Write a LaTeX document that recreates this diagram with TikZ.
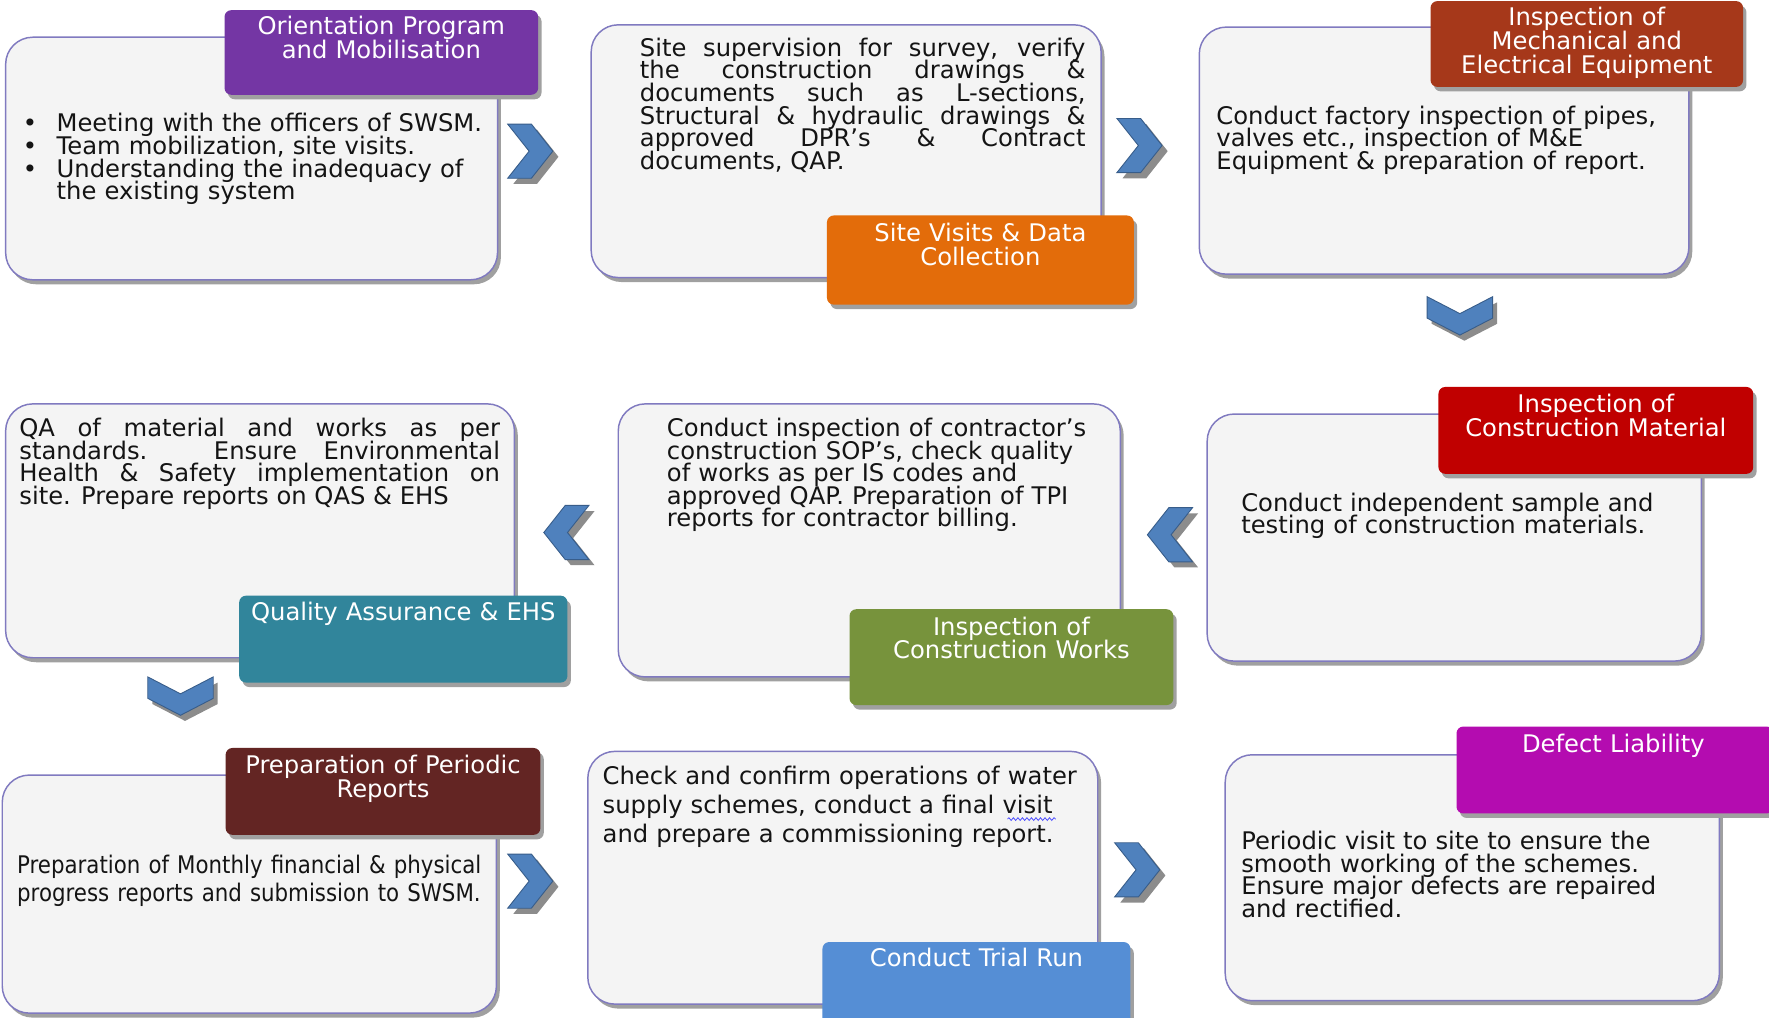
\documentclass[tikz,border=0pt]{standalone}
\usepackage{fontspec}
\setmainfont{DejaVu Sans}
\newfontfamily\narrowfont[FakeStretch=0.88]{DejaVu Sans}
\usetikzlibrary{shadows,decorations.pathmorphing}

\newcommand\bodyfont{\fontsize{21.5}{20}\selectfont\lineskiplimit=-20pt\relax}
\newcommand\headfont{\fontsize{21.5}{21}\selectfont\lineskiplimit=-20pt\relax}

\definecolor{panelfill}{RGB}{244,244,244}
\definecolor{panelline}{RGB}{128,122,192}
\definecolor{shadegray}{RGB}{160,160,160}
\definecolor{bodytext}{RGB}{20,20,20}
\definecolor{chevblue}{RGB}{79,129,189}
\definecolor{chevedge}{RGB}{56,93,138}
\definecolor{chevshade}{RGB}{140,140,140}
\definecolor{hdpurple}{RGB}{116,54,164}
\definecolor{hdorange}{RGB}{227,108,10}
\definecolor{hdrust}{RGB}{166,56,26}
\definecolor{hdred}{RGB}{192,0,0}
\definecolor{hdgreen}{RGB}{119,147,60}
\definecolor{hdteal}{RGB}{49,133,155}
\definecolor{hdmaroon}{RGB}{99,37,35}
\definecolor{hdblue}{RGB}{85,142,213}
\definecolor{hdmagenta}{RGB}{180,12,176}

\begin{document}
\begin{tikzpicture}[x=1pt, y=-1pt,
    panel/.style={draw=panelline, line width=1.3pt, fill=panelfill, rounded corners=24pt,
      drop shadow={shadow xshift=3pt, shadow yshift=-4pt, fill=shadegray, opacity=1}},
    head/.style={fill=#1, rounded corners=6pt,
      drop shadow={shadow xshift=3pt, shadow yshift=-4pt, fill=shadegray, opacity=1}},
    head text/.style={font=\headfont, text=white,
      inner sep=0pt, anchor=base, text width=290, align=center},
    body/.style={font=\bodyfont, text=bodytext,
      inner sep=0pt, anchor=base west, text width=#1, align=left},
    body just/.style={body=#1, align=justify},
    chevR/.pic={
      \fill[chevshade] (5,5) -- (26,5) -- (45,29) -- (26,53) -- (5,53) -- (24,29) -- cycle;
      \filldraw[fill=chevblue, draw=chevedge, line width=0.8pt]
        (0,0) -- (21,0) -- (40,24) -- (21,48) -- (0,48) -- (19,24) -- cycle;},
    chevL/.pic={
      \fill[chevshade] (45,5) -- (24,5) -- (5,29) -- (24,53) -- (45,53) -- (26,29) -- cycle;
      \filldraw[fill=chevblue, draw=chevedge, line width=0.8pt]
        (40,0) -- (19,0) -- (0,24) -- (19,48) -- (40,48) -- (21,24) -- cycle;},
    chevD/.pic={
      \fill[chevshade] (4,5) -- (33,20) -- (62,5) -- (62,24) -- (33,39) -- (4,24) -- cycle;
      \filldraw[fill=chevblue, draw=chevedge, line width=0.8pt]
        (0,0) -- (29,15) -- (58,0) -- (58,19) -- (29,34) -- (0,19) -- cycle;}
  ]
  \fill[white] (0,0) rectangle (1568,902);
  \useasboundingbox (0,0) rectangle (1568,902);

  % panels
  \node[panel, minimum width=436, minimum height=215] (boxA) at (223,140.5) {};
  \node[panel, minimum width=452, minimum height=224] (boxB) at (750,134) {};
  \node[panel, minimum width=434, minimum height=219] (boxC) at (1280,133.5) {};
  \node[panel, minimum width=438, minimum height=219] (boxD) at (1289,476.5) {};
  \node[panel, minimum width=445, minimum height=242] (boxE) at (770.5,479) {};
  \node[panel, minimum width=451, minimum height=225] (boxF) at (230.5,470.5) {};
  \node[panel, minimum width=438, minimum height=211] (boxG) at (221,792.5) {};
  \node[panel, minimum width=452, minimum height=224] (boxH) at (747,778) {};
  \node[panel, minimum width=438, minimum height=218] (boxI) at (1305,778) {};

  % headers
  \node[head=hdpurple, minimum width=278, minimum height=75] (hdA) at (338,46.5) {};
  \node[head=hdorange, minimum width=272, minimum height=79] (hdB) at (869,230.5) {};
  \node[head=hdrust, minimum width=277, minimum height=76] (hdC) at (1406.5,39) {};
  \node[head=hdred, minimum width=279, minimum height=77] (hdD) at (1414.5,381.5) {};
  \node[head=hdgreen, minimum width=287, minimum height=85] (hdE) at (896.5,582.5) {};
  \node[head=hdteal, minimum width=291, minimum height=77] (hdF) at (357.5,566.5) {};
  \node[head=hdmaroon, minimum width=279, minimum height=77] (hdG) at (339.5,701.5) {};
  \node[head=hdblue, minimum width=273, minimum height=80] (hdH) at (865.5,875) {};
  \node[head=hdmagenta, minimum width=281, minimum height=77] (hdI) at (1431.5,682.5) {};

  \node[head text] (htA) at (338,31) {Orientation Program\\and Mobilisation};
  \node[head text] (htB) at (869,214) {Site Visits \& Data\\Collection};
  \node[head text] (htC) at (1406.5,23) {Inspection of\\Mechanical and\\Electrical Equipment};
  \node[head text] (htD) at (1414.5,366) {Inspection of\\Construction Material};
  \node[head text] (htE) at (896.5,563) {Inspection of\\Construction Works};
  \node[head text] (htF) at (357.5,550) {Quality Assurance \& EHS};
  \node[head text] (htG) at (339.5,686) {Preparation of Periodic\\Reports};
  \node[head text] (htH) at (865.5,857) {Conduct Trial Run};
  \node[head text] (htI) at (1430,667) {Defect Liability};

  % body texts
  \node[body=430] (txA) at (20,117) {\makebox[30pt][l]{•}Meeting with the officers of SWSM.\\
    \makebox[30pt][l]{•}Team mobilization, site visits.\\
    \makebox[30pt][l]{•}Understanding the inadequacy of\\
    \hspace*{30pt}the existing system};
  \node[body just=395] (txB) at (567,50) {Site supervision for survey, verify\linebreak
    the construction drawings \&\linebreak documents such as L-sections,\linebreak
    Structural \& hydraulic drawings \&\linebreak approved DPR’s \& Contract\linebreak
    documents, QAP.};
  \node[body=420] (txC) at (1078,110) {Conduct factory inspection of pipes,\\
    valves etc., inspection of M\&E\\Equipment \& preparation of report.};
  \node[body=420] (txD) at (1100,453) {Conduct independent sample and\\
    testing of construction materials.};
  \node[body=400] (txE) at (591,387) {Conduct inspection of contractor’s\\
    construction SOP’s, check quality\\of works as per IS codes and\\
    approved QAP. Preparation of TPI\\reports for contractor billing.};
  \node[body just=426] (txF) at (17,387) {QA of material and works as per\linebreak
    standards. Ensure Environmental\linebreak Health \& Safety implementation on\linebreak
    site. Prepare reports on QAS \& EHS};
  \node[body=420, font=\narrowfont\fontsize{21.5}{25}\selectfont] (txG) at (15,774)
    {Preparation of Monthly financial \& physical\\progress reports and submission to SWSM.};
  \node[body=430, font=\fontsize{21.5}{26}\selectfont] (txH) at (534,695)
    {Check and confirm operations of water\\supply schemes, conduct a final visit\\
    and prepare a commissioning report.};
  \node[body=420] (txI) at (1100,753) {Periodic visit to site to ensure the\\
    smooth working of the schemes.\\Ensure major defects are repaired\\and rectified.};
  % spell-check squiggle under "visit"
  \draw[blue!70, line width=0.7pt, decorate, decoration={snake, amplitude=1.2pt, segment length=4pt}]
    (893,726) -- (936,726);

  % chevrons
  \foreach \x/\y in {450/110, 990/105, 450/757, 988/747}
    \pic at (\x,\y) {chevR};
  \foreach \x/\y in {1017/450, 482/448}
    \pic at (\x,\y) {chevL};
  \foreach \x/\y in {1265/263, 131/600}
    \pic at (\x,\y) {chevD};
\end{tikzpicture}
\end{document}
